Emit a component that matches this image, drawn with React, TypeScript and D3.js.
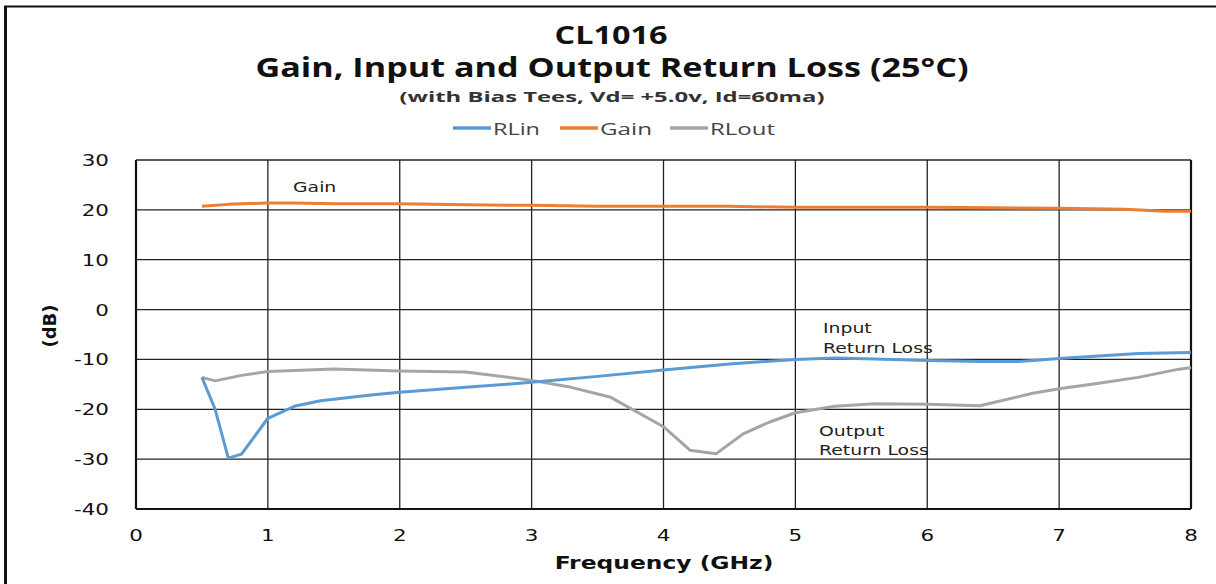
import React from 'react';
import * as d3 from 'd3';

// frequency (GHz) / dB
const rlinFreq = [0.5, 0.6, 0.7, 0.8, 1.0, 1.2, 1.4, 1.6, 1.8, 2.0, 2.5, 3.0, 3.5, 4.0, 4.5, 5.0, 5.3, 5.6, 6.0, 6.4, 6.7, 7.0, 7.3, 7.6, 8.0];
const rlinValues = [-13.6, -20, -29.8, -29, -21.8, -19.4, -18.3, -17.7, -17.1, -16.6, -15.6, -14.6, -13.4, -12.1, -10.9, -10, -9.7, -9.9, -10.2, -10.4, -10.4, -9.8, -9.3, -8.8, -8.6];

const gainFreq = [0.5, 0.7, 1.0, 1.2, 1.5, 2.0, 2.5, 3.0, 3.5, 4.0, 4.5, 5.0, 5.5, 6.0, 6.5, 7.0, 7.5, 7.8, 8.0];
const gainValues = [20.7, 21.1, 21.4, 21.4, 21.2, 21.2, 21.0, 20.9, 20.7, 20.7, 20.7, 20.5, 20.5, 20.5, 20.4, 20.3, 20.1, 19.7, 19.7];

const rloutFreq = [0.5, 0.6, 0.8, 1.0, 1.5, 2.0, 2.5, 3.0, 3.3, 3.6, 4.0, 4.2, 4.4, 4.6, 4.8, 5.0, 5.3, 5.6, 6.0, 6.4, 6.8, 7.0, 7.3, 7.6, 7.9, 8.0];
const rloutValues = [-13.6, -14.3, -13.2, -12.4, -11.9, -12.3, -12.5, -14.2, -15.6, -17.6, -23.5, -28.2, -28.9, -25, -22.6, -20.7, -19.4, -18.9, -19.0, -19.3, -16.8, -15.9, -14.8, -13.6, -12.0, -11.6];

const xTicks = [0, 1, 2, 3, 4, 5, 6, 7, 8];
const yTicks = [30, 20, 10, 0, -10, -20, -30, -40];

const legendNames = ['RLin', 'Gain', 'RLout'];
const legendColors = ['#5B9BD5', '#ED7D31', '#A5A5A5'];

const W = 1216, H = 584;
const M = { left: 136, right: 1191, top: 160, bottom: 509 };
const SX = 1.3; // the source picture is stretched sideways

const tickFont = '"DejaVu Sans", Verdana, sans-serif';
const titleFont = '"Open Sans", "Noto Sans", sans-serif';

// text that is widened horizontally like the original
const Wide: React.FC<{ x: number; y: number; size: number; anchor?: string; bold?: boolean; fill?: string; children: React.ReactNode }> =
  ({ x, y, size, anchor = 'start', bold, fill = '#222', children }) => (
    <text transform={`translate(${x},${y}) scale(${SX},1)`} textAnchor={anchor} fontFamily={tickFont}
      fontWeight={bold ? 'bold' : 'normal'} fontSize={size} fill={fill}>{children}</text>
  );

const App: React.FC = () => {
  const x = d3.scaleLinear().domain([0, 8]).range([M.left, M.right]);
  const y = d3.scaleLinear().domain([-40, 30]).range([M.bottom, M.top]);

  const line = d3.line<[number, number]>().x(d => x(d[0])).y(d => y(d[1]));
  const series = [
    { pts: rlinFreq.map((f, i) => [f, rlinValues[i]] as [number, number]), color: legendColors[0] },
    { pts: gainFreq.map((f, i) => [f, gainValues[i]] as [number, number]), color: legendColors[1] },
    { pts: rloutFreq.map((f, i) => [f, rloutValues[i]] as [number, number]), color: legendColors[2] },
  ];
  const drawOrder = [2, 1, 0];

  const legendLine = [453, 560, 670];
  const legendText = [493, 600, 710];
  const legendWidth = [47, 52, 65];

  return (
    <svg width={W} height={H} style={{ position: 'absolute', left: 0, top: 0, background: '#fff' }}>
      <line x1={4} y1={6.5} x2={W} y2={6.5} stroke="#111" strokeWidth={2} />
      <line x1={5.5} y1={6} x2={5.5} y2={H} stroke="#111" strokeWidth={3} />

      <text x={611} y={44} textAnchor="middle" fontFamily={titleFont} fontWeight="bold" fontSize={25} fill="#111"
        textLength={113} lengthAdjust="spacingAndGlyphs">CL1016</text>
      <text x={612} y={77} textAnchor="middle" fontFamily={titleFont} fontWeight="bold" fontSize={26} fill="#111"
        textLength={713} lengthAdjust="spacingAndGlyphs">Gain, Input and Output Return Loss (25°C)</text>
      <text x={612} y={102} textAnchor="middle" fontFamily={titleFont} fontWeight="bold" fontSize={14.5} fill="#333"
        textLength={425} lengthAdjust="spacingAndGlyphs">(with Bias Tees, Vd= +5.0v, Id=60ma)</text>

      {legendNames.map((n, i) => (
        <g key={n}>
          <line x1={legendLine[i]} x2={legendLine[i] + 38} y1={128} y2={128} stroke={legendColors[i]} strokeWidth={3.5} />
          <text x={legendText[i]} y={135} fontFamily={titleFont} fontSize={16} fill="#444"
            textLength={legendWidth[i]} lengthAdjust="spacingAndGlyphs">{n}</text>
        </g>
      ))}

      {yTicks.map(t => (
        <line key={'gy' + t} x1={M.left} x2={M.right} y1={y(t)} y2={y(t)} stroke="#222" strokeWidth={1.3} />
      ))}
      {xTicks.map(t => (
        <line key={'gx' + t} x1={x(t)} x2={x(t)} y1={M.top} y2={M.bottom} stroke="#222" strokeWidth={1.3} />
      ))}
      <line x1={M.left} x2={M.left} y1={M.top} y2={M.bottom} stroke="#111" strokeWidth={2.2} />
      <line x1={M.left} x2={M.right} y1={M.bottom} y2={M.bottom} stroke="#111" strokeWidth={2.2} />
      <line x1={M.right} x2={M.right} y1={M.top} y2={M.bottom} stroke="#111" strokeWidth={2.2} />

      {yTicks.map(t => (
        <Wide key={'ty' + t} x={109} y={y(t) + 6} size={16.5} anchor="end" fill="#111">{t}</Wide>
      ))}
      {xTicks.map(t => (
        <Wide key={'tx' + t} x={x(t)} y={541} size={16.5} anchor="middle" fill="#111">{t}</Wide>
      ))}

      {drawOrder.map(i => (
        <path key={'s' + i} d={line(series[i].pts) || ''} fill="none" stroke={series[i].color} strokeWidth={3} strokeLinejoin="round" />
      ))}

      <Wide x={293} y={192} size={14.5}>Gain</Wide>
      <Wide x={823} y={333} size={14.5}>Input</Wide>
      <Wide x={823} y={353} size={14.5}>Return Loss</Wide>
      <Wide x={819} y={436} size={14.5}>Output</Wide>
      <Wide x={819} y={455} size={14.5}>Return Loss</Wide>

      <Wide x={664} y={569} size={18} anchor="middle" bold fill="#111">Frequency (GHz)</Wide>
      <text transform="translate(56,326) rotate(-90)" textAnchor="middle" fontFamily={tickFont} fontWeight="bold" fontSize={18} fill="#111">(dB)</text>
    </svg>
  );
};

export default App;
